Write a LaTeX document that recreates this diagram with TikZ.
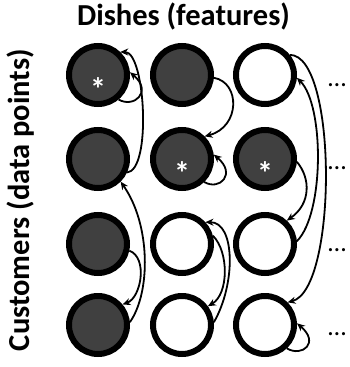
\documentclass[tikz,border=0pt]{standalone}
\usepackage{fontspec}
\setmainfont{Carlito}
\usetikzlibrary{arrows.meta}
\definecolor{dishgray}{HTML}{404040}
\begin{document}
\begin{tikzpicture}[x=1pt,y=1pt,
  dish/.style={circle, draw=black, line width=6pt, minimum size=58pt, inner sep=0pt},
  taken/.style={dish, fill=dishgray},
  free/.style={dish, fill=white},
  link/.style={line width=1.8pt, -{Stealth[length=8pt,width=7pt]}},
  star/.style={text=white, font=\bfseries\fontsize{32}{32}\selectfont, inner sep=0pt, anchor=base},
  more/.style={font=\fontsize{26}{26}\selectfont, inner sep=0pt, anchor=base west},
  heading/.style={font=\bfseries\fontsize{30.5}{32}\selectfont, inner sep=0pt, anchor=base}
]
\useasboundingbox (0,0) rectangle (350,-367);

% headings
\node[heading] (title) at (183.5,-25) {Dishes (features)};
\node[heading, rotate=90] (side) at (29,-200) {Customers (data points)};

% customers x dishes grid
\node[taken] (c11) at (98,-75)  {};
\node[taken] (c12) at (182,-75) {};
\node[free]  (c13) at (265,-75) {};
\node[taken] (c21) at (98,-159)  {};
\node[taken] (c22) at (182,-159) {};
\node[taken] (c23) at (265,-159) {};
\node[taken] (c31) at (98,-244)  {};
\node[free]  (c32) at (182,-244) {};
\node[free]  (c33) at (265,-244) {};
\node[taken] (c41) at (98,-325)  {};
\node[free]  (c42) at (182,-325) {};
\node[free]  (c43) at (265,-325) {};

% marked entries
\node[star] (s11) at (98,-100)   {*};
\node[star] (s22) at (182,-184) {*};
\node[star] (s23) at (265,-184) {*};

% continuation dots
\node[more] (m1) at (328,-86.5)  {…};
\node[more] (m2) at (328,-169.5) {…};
\node[more] (m3) at (328,-251)   {…};
\node[more] (m4) at (328,-335.5) {…};

% first dish
\draw[link] (c11.-50) to[out=-30, in=-40, out distance=18pt, in distance=30pt] (c11.5);
\draw[link] (c21.-25) to[out=5, in=0, out distance=25pt, in distance=25pt] (c11.46);
\draw[link] (c41.5) to[out=55, in=-55, out distance=36.6pt, in distance=52.5pt] (c21.-45);
\draw[link] (c31.-12) to[out=-20, in=20, out distance=20pt, in distance=20pt] (c41.40);

% second dish
\draw[link] (c12.-5) to[out=-10, in=15, out distance=27pt, in distance=37pt] (c22.45);
\draw[link] (c22.-46) to[out=-30, in=-40, out distance=18pt, in distance=30pt] (c22.8);
\draw[link] (c32.15) to[out=-45, in=30, out distance=23pt, in distance=24pt] (c42.36);
\draw[link] (c42.5) to[out=60, in=0, out distance=44pt, in distance=30pt] (c32.43);

% third dish
\draw[link] (c23.-5) to[out=-50, in=35, out distance=22pt, in distance=29pt] (c33.47);
\draw[link] (c33.5) to[out=45, in=-45, out distance=38.9pt, in distance=38.9pt] (c13.-5);
\draw[link] (c13.39) to[out=0, in=15, out distance=47.7pt, in distance=51.7pt] (c43.45);
\draw[link] (c43.-47) to[out=-30, in=-40, out distance=18pt, in distance=30pt] (c43.3);
\end{tikzpicture}
\end{document}
